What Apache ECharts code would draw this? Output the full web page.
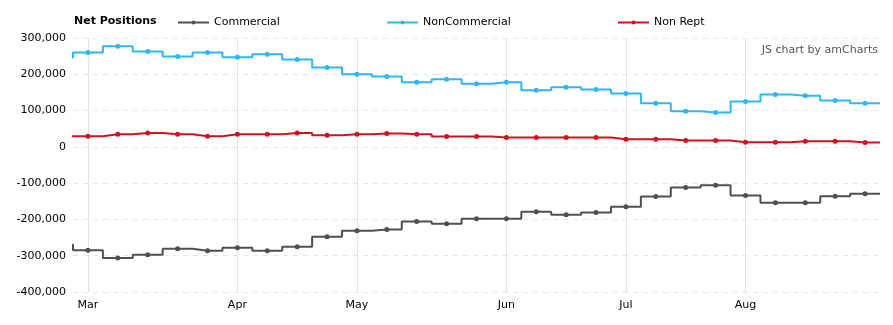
<!DOCTYPE html>
<html>
<head>
<meta charset="utf-8">
<script src="https://cdn.jsdelivr.net/npm/echarts@6/dist/echarts.min.js"></script>
<style>html,body{margin:0;padding:0;background:#fff;}#c{width:893px;height:325px;}</style>
</head>
<body>
<div id="c"></div>
<script>
// Weekly report dates (first one lies just before the visible window)
var dates = ['2011-02-22','2011-03-01','2011-03-08','2011-03-15','2011-03-22','2011-03-29',
  '2011-04-05','2011-04-12','2011-04-19','2011-04-26',
  '2011-05-03','2011-05-10','2011-05-17','2011-05-24','2011-05-31',
  '2011-06-07','2011-06-14','2011-06-21','2011-06-28',
  '2011-07-05','2011-07-12','2011-07-19','2011-07-26',
  '2011-08-02','2011-08-09','2011-08-16','2011-08-23','2011-08-30'];
var commercial = [-270000,-285000,-306000,-297000,-281000,-286000,-278000,-286000,-275000,-248000,
  -231000,-228000,-206000,-212000,-198000,-198000,-179000,-187000,-181000,
  -165000,-137000,-112000,-106000,-134000,-154000,-154000,-136000,-129000];
var nonCommercial = [246000,260000,277000,263000,249000,260000,247000,255000,241000,219000,
  200000,194000,178000,186000,174000,178000,156000,164000,158000,
  147000,120000,98000,95000,125000,144000,141000,128000,120000];
var nonRept = [29000,29500,35000,38000,35000,29500,35000,35000,38000,32000,
  35000,37000,35000,28500,28500,26000,26000,26000,26000,
  21000,21000,17500,17500,13000,13000,15500,15500,12000];
var monthNames = ['Jan','Feb','Mar','Apr','May','Jun','Jul','Aug','Sep','Oct','Nov','Dec'];
var seriesNames = ['Commercial','NonCommercial','Non Rept'];
var seriesColors = ['#505050','#2db7f5','#d0111f'];
var chartTitle = 'Net Positions';
var creditText = 'JS chart by amCharts';

// index of each date: first date is -1 (just outside the window)
var firstVisible = 1;
function idx(i){ return i - firstVisible; }
var lastIdx = idx(dates.length - 1);

// month ticks at the first report of each month
var monthTicks = [], tickLabel = {};
for (var i = firstVisible; i < dates.length; i++) {
  var m = +dates[i].slice(5,7), pm = +dates[i-1].slice(5,7);
  if (m !== pm) { monthTicks.push(idx(i)); tickLabel[idx(i)] = monthNames[m-1]; }
}

function buildData(vals){
  var d = [];
  for (var i = 0; i < vals.length; i++) d.push([idx(i), vals[i]]);
  // hold the last value to the right edge of its band
  d.push({value:[lastIdx + 0.5, vals[vals.length-1]], symbol:'none'});
  return d;
}

var all = [commercial, nonCommercial, nonRept];
var series = all.map(function(v, k){
  return {
    name: seriesNames[k], type:'line', step:'middle', data: buildData(v),
    clip: true, symbol:'circle', symbolSize:5, showSymbol:true,
    lineStyle:{width:2, color:seriesColors[k]},
    itemStyle:{color:seriesColors[k]},
    emphasis:{disabled:true}, animation:false
  };
});

var legendLefts = [172, 381, 612];
var legends = seriesNames.map(function(n, k){
  return {
    data:[n], left: legendLefts[k], top: 12, itemWidth: 31, itemHeight: 5, itemGap: 0,
    textStyle:{fontFamily:'DejaVu Sans', fontSize:11, color:'#000'},
    selectedMode:false
  };
});

var chart = echarts.init(document.getElementById('c'), null, {renderer:'canvas'});
chart.setOption({
  backgroundColor:'#fff',
  animation:false,
  title:{text:chartTitle, left:74, top:16, padding:0,
    textStyle:{fontFamily:'DejaVu Sans', fontSize:11, fontWeight:'bold', color:'#000'}},
  legend: legends,
  graphic:[{type:'text', right:15, top:45,
    style:{text:creditText, fontFamily:'DejaVu Sans', fontSize:11, fill:'#555'}}],
  grid:{left:73, right:13, top:38, bottom:33, containLabel:false},
  xAxis:{
    type:'value', min: idx(firstVisible) - 0.5, max: lastIdx + 0.5,
    axisLine:{show:false}, axisTick:{show:false, customValues: monthTicks},
    axisLabel:{customValues: monthTicks, formatter:function(v){ return tickLabel[v] || ''; },
      fontFamily:'DejaVu Sans', fontSize:11, color:'#000', margin:8},
    splitLine:{show:true, lineStyle:{color:'#e2e2e2', width:1, type:'solid'}}
  },
  yAxis:{
    type:'value', min:-400000, max:300000, interval:100000,
    axisLine:{show:false}, axisTick:{show:false},
    axisLabel:{formatter:function(v){ return v.toLocaleString('en-US'); },
      fontFamily:'DejaVu Sans', fontSize:11, color:'#000', margin:7},
    splitLine:{show:true, lineStyle:{color:'#e6e6e6', width:1, type:[5,5]}}
  },
  series: series
});
</script>
</body>
</html>
